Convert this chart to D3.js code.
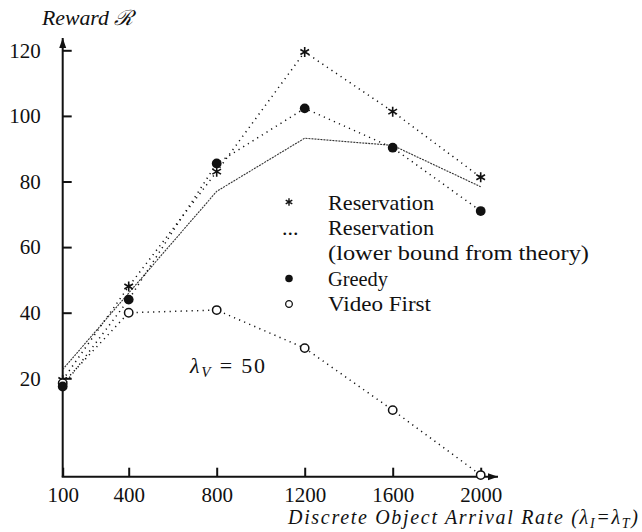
<!DOCTYPE html>
<html>
<head>
<meta charset="utf-8">
<script src="https://cdn.jsdelivr.net/npm/d3@7"></script>
<style>
  body { margin: 0; background: #fff; }
  svg { display: block; }
</style>
</head>
<body>
<div id="chart"></div>
<script>
// 数据
const rates = [100, 400, 800, 1200, 1600, 2000];
const reservation = [19.5, 48, 83, 119.5, 101.3, 81.3];
const lowerBound = [22.7, 46, 77, 93.2, 91, 78.4];
const greedy = [17.5, 44, 85.5, 102.3, 90.3, 71];
const videoFirst = [18.5, 40, 40.8, 29.2, 10.3, -9.5];
const yTicks = [20, 40, 60, 80, 100, 120];
const legendLabels = ['Reservation', 'Reservation', '(lower bound from theory)', 'Greedy', 'Video First'];

const FONT = '"Liberation Serif"';
const width = 642, height = 532;
const svg = d3.select('#chart').append('svg')
    .attr('width', width)
    .attr('height', height);

const x = d3.scaleLinear().domain([100, 2000]).range([62.7, 480.7]);
const y = d3.scaleLinear().domain([-10, 120]).range([476.7, 50.3]);

// 箭头
svg.append('defs').append('marker')
    .attr('id', 'arrow')
    .attr('viewBox', '0 0 10 10')
    .attr('refX', 10).attr('refY', 5)
    .attr('markerWidth', 10).attr('markerHeight', 10)
    .attr('markerUnits', 'userSpaceOnUse')
    .attr('orient', 'auto')
    .append('path')
    .attr('d', 'M0,1.5 L10,5 L0,8.5 Z')
    .attr('fill', '#111');

// 坐标轴
const xAxis = svg.append('g')
    .attr('transform', `translate(0,${y(-10)})`)
    .call(d3.axisBottom(x).tickValues(rates).tickFormat(d3.format('d'))
        .tickSizeInner(-9).tickSizeOuter(0).tickPadding(10));
const yAxis = svg.append('g')
    .attr('transform', `translate(${x(100)},0)`)
    .call(d3.axisLeft(y).tickValues(yTicks).tickFormat(d3.format('d'))
        .tickSizeInner(-9).tickSizeOuter(0).tickPadding(22));
[xAxis, yAxis].forEach(g => {
    g.select('.domain').remove();
    g.selectAll('.tick line').attr('stroke', '#111').attr('stroke-width', 2);
    g.selectAll('.tick text')
        .style('font-family', FONT).style('font-size', '21px')
        .attr('fill', '#111');
});

svg.append('line')
    .attr('x1', x(100)).attr('y1', y(-10))
    .attr('x2', x(100)).attr('y2', 38)
    .attr('stroke', '#111').attr('stroke-width', 2)
    .attr('marker-end', 'url(#arrow)');
svg.append('line')
    .attr('x1', x(100) - 1).attr('y1', y(-10))
    .attr('x2', 498).attr('y2', y(-10))
    .attr('stroke', '#111').attr('stroke-width', 2)
    .attr('marker-end', 'url(#arrow)');

// 轴标题
svg.append('text')
    .attr('x', 42).attr('y', 25)
    .style('font-family', FONT).style('font-size', '21px').style('font-style', 'italic')
    .attr('fill', '#111')
    .attr('textLength', 91).attr('lengthAdjust', 'spacingAndGlyphs')
    .text('Reward ℛ');

const xt = svg.append('text')
    .attr('x', 288).attr('y', 524)
    .style('font-family', FONT).style('font-size', '20px').style('font-style', 'italic')
    .attr('fill', '#111')
    .attr('textLength', 350).attr('lengthAdjust', 'spacing');
xt.append('tspan').text('Discrete Object Arrival Rate (λ');
xt.append('tspan').style('font-size', '14px').attr('dy', 4).text('I');
xt.append('tspan').attr('dy', -4).text('=λ');
xt.append('tspan').style('font-size', '14px').attr('dy', 4).text('T');
xt.append('tspan').attr('dy', -4).text(')');

// 线
const line = d3.line().x((d, i) => x(rates[i])).y(d => y(d));

svg.append('path').datum(lowerBound)
    .attr('d', line)
    .attr('fill', 'none')
    .attr('stroke', '#333').attr('stroke-width', 1.1)
    .attr('stroke-dasharray', '2,1');

[reservation, greedy, videoFirst].forEach(s => {
    svg.append('path').datum(s)
        .attr('d', line)
        .attr('fill', 'none')
        .attr('stroke', '#111').attr('stroke-width', 1.5)
        .attr('stroke-dasharray', '1.2,4.3');
});

// 标记
const asterisk = d3.symbol().type(d3.symbolAsterisk).size(70);
const dot = d3.symbol().type(d3.symbolCircle).size(75);
const ring = d3.symbol().type(d3.symbolCircle).size(55);

svg.selectAll('.res').data(reservation).enter().append('path')
    .attr('class', 'res')
    .attr('transform', (d, i) => `translate(${x(rates[i])},${y(d)})`)
    .attr('d', asterisk)
    .attr('fill', 'none').attr('stroke', '#111').attr('stroke-width', 1.6);

svg.selectAll('.vf').data(videoFirst).enter().append('path')
    .attr('class', 'vf')
    .attr('transform', (d, i) => `translate(${x(rates[i])},${y(d)})`)
    .attr('d', ring)
    .attr('fill', '#fff').attr('stroke', '#111').attr('stroke-width', 1.5);

svg.selectAll('.gr').data(greedy).enter().append('path')
    .attr('class', 'gr')
    .attr('transform', (d, i) => `translate(${x(rates[i])},${y(d)})`)
    .attr('d', dot)
    .attr('fill', '#111');

// 图例
const legend = svg.append('g').attr('fill', '#111');
const rowY = [210, 235, 260, 285.5, 311];
const legendWidths = [106, 106, 261, 60, 103];
legendLabels.forEach((t, i) => {
    legend.append('text').attr('x', 328).attr('y', rowY[i])
        .style('font-family', FONT).style('font-size', '22px')
        .attr('textLength', legendWidths[i]).attr('lengthAdjust', 'spacingAndGlyphs')
        .text(t);
});
legend.append('path')
    .attr('transform', `translate(289,${rowY[0] - 8})`)
    .attr('d', d3.symbol().type(d3.symbolAsterisk).size(40))
    .attr('fill', 'none').attr('stroke', '#111').attr('stroke-width', 1.4);
legend.append('text').attr('x', 282).attr('y', rowY[1])
    .style('font-family', FONT).style('font-size', '22px')
    .text('...');
legend.append('path')
    .attr('transform', `translate(289,${rowY[3] - 7})`)
    .attr('d', d3.symbol().type(d3.symbolCircle).size(45))
    .attr('fill', '#111');
legend.append('path')
    .attr('transform', `translate(289,${rowY[4] - 7})`)
    .attr('d', d3.symbol().type(d3.symbolCircle).size(35))
    .attr('fill', 'none').attr('stroke', '#111').attr('stroke-width', 1.3);

// λ_V = 50
const lam = svg.append('text')
    .attr('x', 190).attr('y', 373)
    .style('font-family', FONT).style('font-size', '22px')
    .attr('fill', '#111')
    .attr('textLength', 75).attr('lengthAdjust', 'spacing');
lam.append('tspan').style('font-style', 'italic').text('λ');
lam.append('tspan').style('font-size', '15px').style('font-style', 'italic').attr('dy', 4).text('V');
lam.append('tspan').attr('dy', -4).text(' = 50');
</script>
</body>
</html>
